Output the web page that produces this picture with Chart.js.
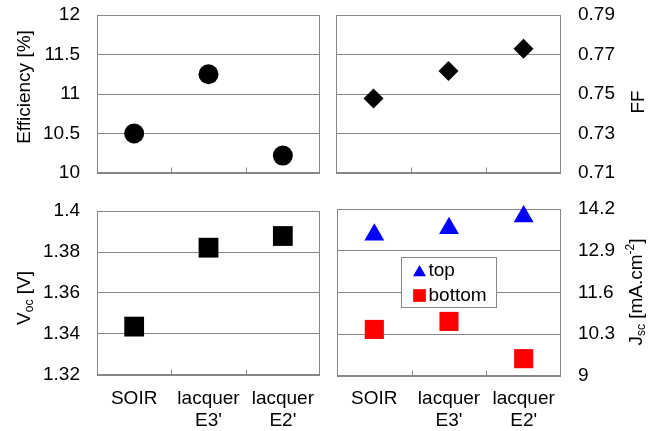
<!DOCTYPE html>
<html><head><meta charset="utf-8">
<script src="https://cdn.jsdelivr.net/npm/chart.js@4/dist/chart.umd.min.js"></script>
<style>
html,body{margin:0;padding:0;background:#fff;}
#wrap{position:relative;width:662px;height:431px;overflow:hidden;background:#fff;}
canvas{position:absolute;left:0;top:0;}
</style></head><body>
<div id="wrap">
<canvas id="c1" width="662" height="431"></canvas>
<canvas id="c2" width="662" height="431"></canvas>
<canvas id="c3" width="662" height="431"></canvas>
<canvas id="c4" width="662" height="431"></canvas>
</div>
<script>
// ---- data ----
const categories = ['SOIR', ['lacquer', "E3'"], ['lacquer', "E2'"]];
const efficiency = [10.5, 11.25, 10.22];
const fillFactor = [0.7477, 0.7616, 0.7729];
const voc = [1.3436, 1.3821, 1.3878];
const jscTop = [13.40, 13.60, 13.97];
const jscBottom = [10.45, 10.70, 9.54];
const effTicks = [10, 10.5, 11, 11.5, 12];
const ffTicks = [0.71, 0.73, 0.75, 0.77, 0.79];
const vocTicks = [1.32, 1.34, 1.36, 1.38, 1.4];
const jscTicks = [9, 10.3, 11.6, 12.9, 14.2];
const legendLabels = ['top', 'bottom'];

// ---- layout / style ----
const W = 662, H = 431;
const FONT = "'Liberation Sans', Arial, Helvetica, sans-serif";
const GRID = '#868686';
const FS = 19;

const titles = {
  c1: {cx: 25, cy: 87, segs: [{t: 'Efficiency [%]'}]},
  c2: {cx: 639, cy: 102, segs: [{t: 'FF'}]},
  c3: {cx: 25, cy: 298, segs: [{t: 'V'}, {t: 'oc', sub: true}, {t: ' [V]'}]},
  c4: {cx: 637, cy: 292, segs: [{t: 'J'}, {t: 'sc', sub: true}, {t: ' [mA.cm'}, {t: '-2', sup: true}, {t: ']'}]}
};

const framePlugin = {
  id: 'frame',
  beforeDatasetsDraw(chart) {
    const {ctx, chartArea: a} = chart;
    ctx.save();
    ctx.strokeStyle = GRID;
    ctx.lineWidth = 1;
    const l = Math.round(a.left) + 0.5, r = Math.round(a.right) - 0.5;
    const t = Math.round(a.top) + 0.5, b = Math.round(a.bottom) - 0.5;
    ctx.strokeRect(l, t, r - l, b - t);
    const xs = chart.scales.x;
    ctx.beginPath();
    for (let i = 1; i < xs.ticks.length; i++) {
      const px = Math.round((xs.getPixelForTick(i - 1) + xs.getPixelForTick(i)) / 2) + 0.5;
      ctx.moveTo(px, b);
      ctx.lineTo(px, b - 5);
    }
    ctx.stroke();
    ctx.restore();
  }
};

const titlePlugin = {
  id: 'axisTitleRich',
  afterDraw(chart) {
    const cfg = titles[chart.canvas.id];
    if (!cfg) return;
    const ctx = chart.ctx;
    const big = '19px ' + FONT, small = '12px ' + FONT;
    ctx.save();
    let total = 0;
    const parts = cfg.segs.map(s => {
      ctx.font = (s.sub || s.sup) ? small : big;
      const w = ctx.measureText(s.t).width;
      total += w;
      return {s, w};
    });
    ctx.translate(cfg.cx, cfg.cy);
    ctx.rotate(-Math.PI / 2);
    ctx.fillStyle = '#000';
    ctx.textBaseline = 'middle';
    ctx.textAlign = 'left';
    let x = -total / 2;
    parts.forEach(p => {
      ctx.font = (p.s.sub || p.s.sup) ? small : big;
      const dy = p.s.sub ? 5 : (p.s.sup ? -6 : 0);
      ctx.fillText(p.s.t, x, dy);
      x += p.w;
    });
    ctx.restore();
  }
};

const legendPlugin = {
  id: 'boxLegend',
  afterDraw(chart) {
    if (chart.canvas.id !== 'c4') return;
    const {ctx, chartArea: a} = chart;
    const bx = Math.round(a.left + 64) + 0.5, by = Math.round(a.top + 48) + 0.5;
    const bw = 95, bh = 50;
    ctx.save();
    ctx.fillStyle = '#fff';
    ctx.fillRect(bx, by, bw, bh);
    ctx.strokeStyle = GRID;
    ctx.lineWidth = 1;
    ctx.strokeRect(bx, by, bw, bh);
    const rows = [13.5, 38];
    const radii = [7.5, 9];
    chart.data.datasets.forEach((d, i) => {
      const y = by + rows[i];
      ctx.fillStyle = d.backgroundColor;
      ctx.strokeStyle = d.backgroundColor;
      Chart.helpers.drawPoint(ctx, {pointStyle: d.pointStyle, radius: radii[i], rotation: 0, borderWidth: 0},
        bx + 18, y + (d.pointStyle === 'triangle' ? 1.5 : 0));
      ctx.fillStyle = '#000';
      ctx.font = FS + 'px ' + FONT;
      ctx.textBaseline = 'middle';
      ctx.textAlign = 'left';
      ctx.fillText(d.label, bx + 27, y);
    });
    ctx.restore();
  }
};

function ds(label, data, style, radius, color) {
  return {label, data, showLine: false, pointStyle: style, pointRadius: radius, pointHoverRadius: radius,
    backgroundColor: color, borderColor: color, pointBorderWidth: 0, clip: false};
}

function makeChart(id, area, side, ticks, datasets, showX, xPad) {
  const isLeft = side === 'left';
  const xH = showX ? H - area.bottom : 0;
  const padding = {
    top: area.top,
    bottom: H - area.bottom - xH,
    left: isLeft ? 0 : area.left,
    right: isLeft ? W - area.right : 0
  };
  const yW = isLeft ? area.left : W - area.right;
  return new Chart(document.getElementById(id), {
    type: 'line',
    data: {labels: categories, datasets},
    options: {
      responsive: false, animation: false, devicePixelRatio: 1,
      layout: {padding},
      plugins: {legend: {display: false}, tooltip: {enabled: false}},
      scales: {
        x: {
          type: 'category', offset: true,
          grid: {display: false, drawTicks: false}, border: {display: false},
          ticks: {display: showX, color: '#000', font: {family: FONT, size: FS, lineHeight: 1.16},
            padding: xPad || 0, maxRotation: 0, minRotation: 0, autoSkip: false},
          afterFit: s => { s.height = xH; s.paddingLeft = 0; s.paddingRight = 0; }
        },
        y: {
          type: 'linear', position: side, min: ticks[0], max: ticks[ticks.length - 1],
          afterBuildTicks: s => { s.ticks = ticks.map(v => ({value: v})); },
          grid: {color: GRID, lineWidth: 1, drawTicks: false}, border: {display: false},
          ticks: {color: '#000', font: {family: FONT, size: FS}, padding: 17, callback: v => String(v)},
          afterFit: s => { s.width = yW; s.paddingTop = 0; s.paddingBottom = 0; }
        }
      }
    },
    plugins: [framePlugin, titlePlugin, legendPlugin]
  });
}

makeChart('c1', {left: 97, right: 320, top: 15, bottom: 173}, 'left', effTicks,
  [ds('Efficiency', efficiency, 'circle', 10, '#000')], false);
makeChart('c2', {left: 336, right: 561, top: 15, bottom: 173}, 'right', ffTicks,
  [ds('FF', fillFactor, 'rectRot', 10, '#000')], false);
makeChart('c3', {left: 97, right: 320, top: 211, bottom: 375}, 'left', vocTicks,
  [ds('Voc', voc, 'rect', 14, '#000')], true, 13);
makeChart('c4', {left: 337, right: 561, top: 209, bottom: 376}, 'right', jscTicks,
  [ds(legendLabels[0], jscTop, 'triangle', 11.5, '#0000ff'),
   ds(legendLabels[1], jscBottom, 'rect', 13.5, '#ff0000')], true, 12);
</script>
</body></html>
